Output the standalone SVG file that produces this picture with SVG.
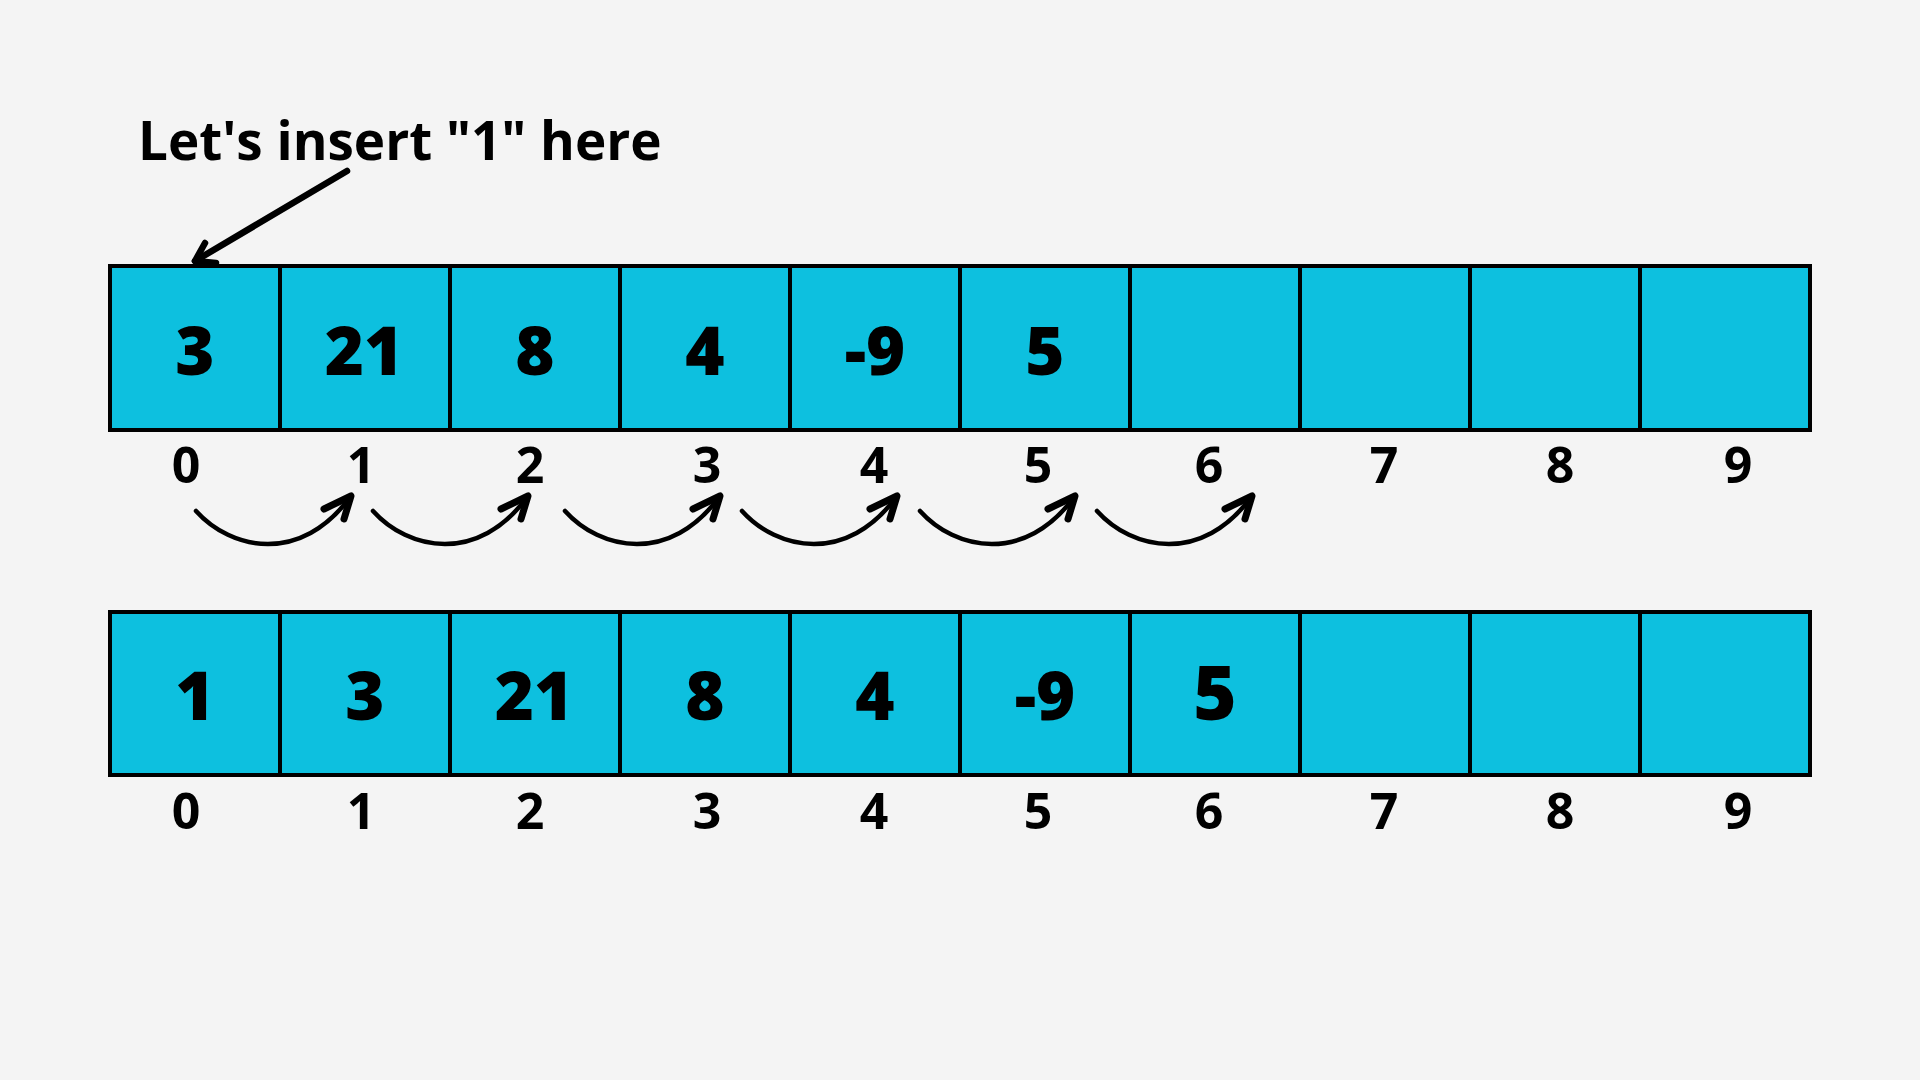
<svg xmlns="http://www.w3.org/2000/svg" xmlns:xlink="http://www.w3.org/1999/xlink" width="1920" height="1080" viewBox="0 0 1920 1080">
<style>
.cell{fill:#0dc0df;stroke:#000;stroke-width:4}
.val{font-family:"Open Sans","Liberation Sans",sans-serif;font-weight:800;font-size:67px;fill:#000;text-anchor:middle}
.idx{font-family:"Open Sans","Liberation Sans",sans-serif;font-weight:700;font-size:50px;fill:#000;text-anchor:middle}
.title{font-family:"Open Sans","Liberation Sans",sans-serif;font-weight:700;font-size:53px;fill:#000}
.ln{fill:none;stroke:#000;stroke-linecap:round;stroke-linejoin:round}
</style>
<defs>
<g id="curve">
<path class="ln" stroke-width="4.5" d="M0,0 C35,39 105,54 155,-15"/>
<path class="ln" stroke-width="7" d="M128,-2 L155,-15 L148,8"/>
</g>
</defs>
<rect width="1920" height="1080" fill="#f4f4f4"/>
<text class="title" x="138" y="160">Let's insert "1" here</text>
<g id="top-row">
<g id="t0"><rect class="cell" x="110" y="266" width="170" height="164"/><text class="val" x="195" y="375">3</text></g>
<g id="t1"><rect class="cell" x="280" y="266" width="170" height="164"/><text class="val" x="364" y="375">21</text></g>
<g id="t2"><rect class="cell" x="450" y="266" width="170" height="164"/><text class="val" x="535" y="375">8</text></g>
<g id="t3"><rect class="cell" x="620" y="266" width="170" height="164"/><text class="val" x="705" y="375">4</text></g>
<g id="t4"><rect class="cell" x="790" y="266" width="170" height="164"/><text class="val" x="875" y="375">-9</text></g>
<g id="t5"><rect class="cell" x="960" y="266" width="170" height="164"/><text class="val" x="1045" y="375">5</text></g>
<g id="t6"><rect class="cell" x="1130" y="266" width="170" height="164"/></g>
<g id="t7"><rect class="cell" x="1300" y="266" width="170" height="164"/></g>
<g id="t8"><rect class="cell" x="1470" y="266" width="170" height="164"/></g>
<g id="t9"><rect class="cell" x="1640" y="266" width="170" height="164"/></g>
</g>
<g id="top-index">
<text class="idx" x="186" y="483">0</text>
<text class="idx" x="361" y="483">1</text>
<text class="idx" x="530" y="483">2</text>
<text class="idx" x="707" y="483">3</text>
<text class="idx" x="874" y="483">4</text>
<text class="idx" x="1038" y="483">5</text>
<text class="idx" x="1209" y="483">6</text>
<text class="idx" x="1384" y="483">7</text>
<text class="idx" x="1560" y="483">8</text>
<text class="idx" x="1738" y="483">9</text>
</g>
<g id="bottom-row">
<g id="b0"><rect class="cell" x="110" y="612" width="170" height="163"/><text class="val" x="195" y="720">1</text></g>
<g id="b1"><rect class="cell" x="280" y="612" width="170" height="163"/><text class="val" x="365" y="720">3</text></g>
<g id="b2"><rect class="cell" x="450" y="612" width="170" height="163"/><text class="val" x="534" y="720">21</text></g>
<g id="b3"><rect class="cell" x="620" y="612" width="170" height="163"/><text class="val" x="705" y="720">8</text></g>
<g id="b4"><rect class="cell" x="790" y="612" width="170" height="163"/><text class="val" x="875" y="720">4</text></g>
<g id="b5"><rect class="cell" x="960" y="612" width="170" height="163"/><text class="val" x="1045" y="720">-9</text></g>
<g id="b6"><rect class="cell" x="1130" y="612" width="170" height="163"/><text class="val" x="1215" y="720" style="font-size:74px">5</text></g>
<g id="b7"><rect class="cell" x="1300" y="612" width="170" height="163"/></g>
<g id="b8"><rect class="cell" x="1470" y="612" width="170" height="163"/></g>
<g id="b9"><rect class="cell" x="1640" y="612" width="170" height="163"/></g>
</g>
<g id="bottom-index">
<text class="idx" x="186" y="829">0</text>
<text class="idx" x="361" y="829">1</text>
<text class="idx" x="530" y="829">2</text>
<text class="idx" x="707" y="829">3</text>
<text class="idx" x="874" y="829">4</text>
<text class="idx" x="1038" y="829">5</text>
<text class="idx" x="1209" y="829">6</text>
<text class="idx" x="1384" y="829">7</text>
<text class="idx" x="1560" y="829">8</text>
<text class="idx" x="1738" y="829">9</text>
</g>
<g id="connectors">
<path class="ln" stroke-width="6.5" d="M347,171 L195,261"/>
<path class="ln" stroke-width="6.5" d="M205,243 L195,261 L216,263"/>
<use xlink:href="#curve" transform="translate(196,511)"/>
<use xlink:href="#curve" transform="translate(373,511)"/>
<use xlink:href="#curve" transform="translate(565,511)"/>
<use xlink:href="#curve" transform="translate(742,511)"/>
<use xlink:href="#curve" transform="translate(920,511)"/>
<use xlink:href="#curve" transform="translate(1097,511)"/>
</g>
</svg>
